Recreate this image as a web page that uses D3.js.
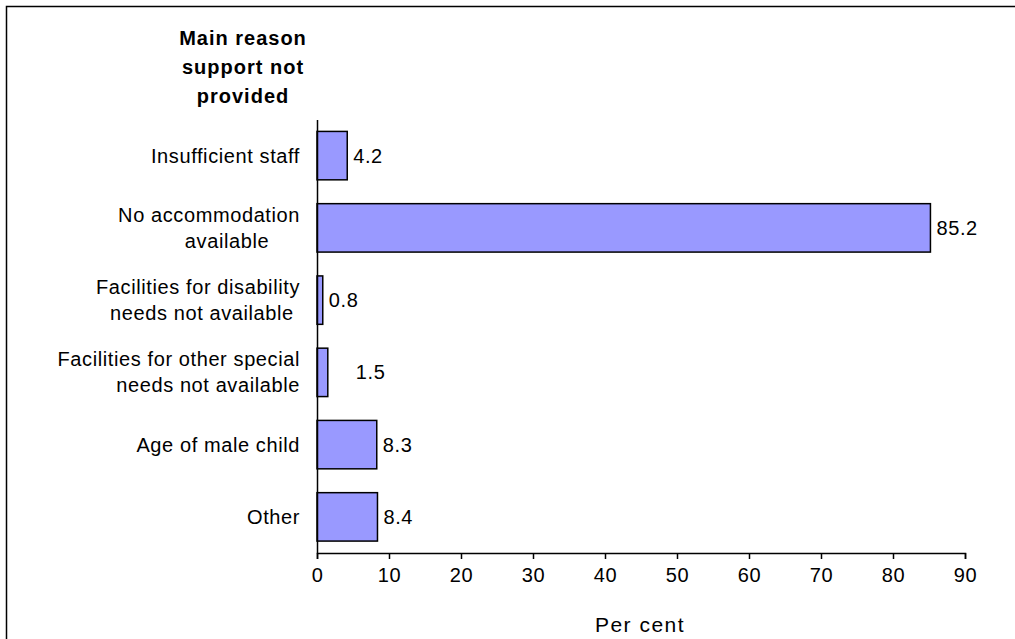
<!DOCTYPE html>
<html>
<head>
<meta charset="utf-8">
<script src="https://cdn.jsdelivr.net/npm/d3@7"></script>
<style>
  html, body { margin: 0; padding: 0; background: #fff; }
  svg text { font-family: "Liberation Sans", Arial, sans-serif; fill: #000; }
</style>
</head>
<body>
<svg id="chart" width="1015" height="639"></svg>
<script>
// Reasons support was not provided, with the share of cases (per cent)
const categories = [
  ["Insufficient staff"],
  ["No accommodation", "available     "],
  ["Facilities for disability", "needs not available "],
  ["Facilities for other special", "needs not available"],
  ["Age of male child"],
  ["Other"]
];
const values = [4.2, 85.2, 0.8, 1.5, 8.3, 8.4];
const xTicks = [0, 10, 20, 30, 40, 50, 60, 70, 80, 90];
const titleLines = ["Main reason", "support not", "provided"];
const xTitle = "Per cent";

const svg = d3.select("#chart");
const fontSize = 20;
const spacing = 0.6;

// outer frame
svg.append("rect")
  .attr("x", 6.5).attr("y", 6.5)
  .attr("width", 1012).attr("height", 640)
  .attr("fill", "none").attr("stroke", "#000").attr("stroke-width", 1.5);

const plot = { left: 317, right: 965, top: 119.5, bottom: 553 };

const x = d3.scaleLinear().domain([0, 90]).range([plot.left, plot.right]);
const y = d3.scaleBand()
  .domain(d3.range(categories.length))
  .range([plot.top, plot.bottom])
  .paddingInner(0.33)
  .paddingOuter(0.165);

// bars
svg.append("g").selectAll("rect")
  .data(values)
  .join("rect")
  .attr("x", x(0))
  .attr("y", (d, i) => y(i))
  .attr("width", d => x(d) - x(0))
  .attr("height", y.bandwidth())
  .attr("fill", "#9999FF")
  .attr("stroke", "#000")
  .attr("stroke-width", 1.5);

// value labels (the 1.5 label sits a little further out)
const labelShift = { 3: 22 };
svg.append("g").selectAll("text")
  .data(values)
  .join("text")
  .attr("x", (d, i) => x(d) + 6 + (labelShift[i] || 0))
  .attr("y", (d, i) => y(i) + y.bandwidth() / 2)
  .attr("dy", "0.35em")
  .attr("font-size", fontSize)
  .attr("letter-spacing", spacing)
  .text(d => d3.format(".1f")(d));

// x axis
const xAxis = d3.axisBottom(x).tickValues(xTicks).tickSize(6).tickPadding(9).tickFormat(d3.format("d"));
const gx = svg.append("g").attr("transform", `translate(0,${plot.bottom})`).call(xAxis);
gx.select(".domain").attr("stroke", "#000").attr("stroke-width", 1.5);
gx.selectAll(".tick line").attr("stroke", "#000").attr("stroke-width", 1.5);
gx.selectAll(".tick text")
  .attr("font-size", fontSize)
  .attr("letter-spacing", spacing)
  .attr("font-family", "Liberation Sans, Arial, sans-serif")
  .attr("fill", "#000");

// y axis line (no ticks)
const yAxis = d3.axisLeft(y).tickSize(0).tickFormat("");
const gy = svg.append("g").attr("transform", `translate(${plot.left},0)`).call(yAxis);
gy.select(".domain").attr("stroke", "#000").attr("stroke-width", 1.5);

// category labels, right aligned, one line per tspan
const lineH = 26;
const cat = svg.append("g").selectAll("text")
  .data(categories)
  .join("text")
  .attr("text-anchor", "end")
  .attr("font-size", fontSize)
  .attr("letter-spacing", spacing)
  .style("white-space", "pre")
  .attr("y", (d, i) => y(i) + y.bandwidth() / 2 - (d.length - 1) * lineH / 2);
cat.each(function(lines) {
  const t = d3.select(this);
  const y0 = +t.attr("y");
  lines.forEach((ln, k) => {
    t.append("tspan")
      .attr("x", 300)
      .attr("y", y0 + k * lineH)
      .attr("dy", "0.35em")
      .text(ln);
  });
});

// heading over the category labels
svg.append("g").selectAll("text")
  .data(titleLines)
  .join("text")
  .attr("x", 243)
  .attr("y", (d, i) => 45 + i * 29)
  .attr("text-anchor", "middle")
  .attr("font-size", 20)
  .attr("font-weight", "bold")
  .attr("letter-spacing", 1)
  .text(d => d);

// x axis title
svg.append("text")
  .attr("x", 640)
  .attr("y", 632)
  .attr("text-anchor", "middle")
  .attr("font-size", 21)
  .attr("letter-spacing", 1.5)
  .text(xTitle);
</script>
</body>
</html>
